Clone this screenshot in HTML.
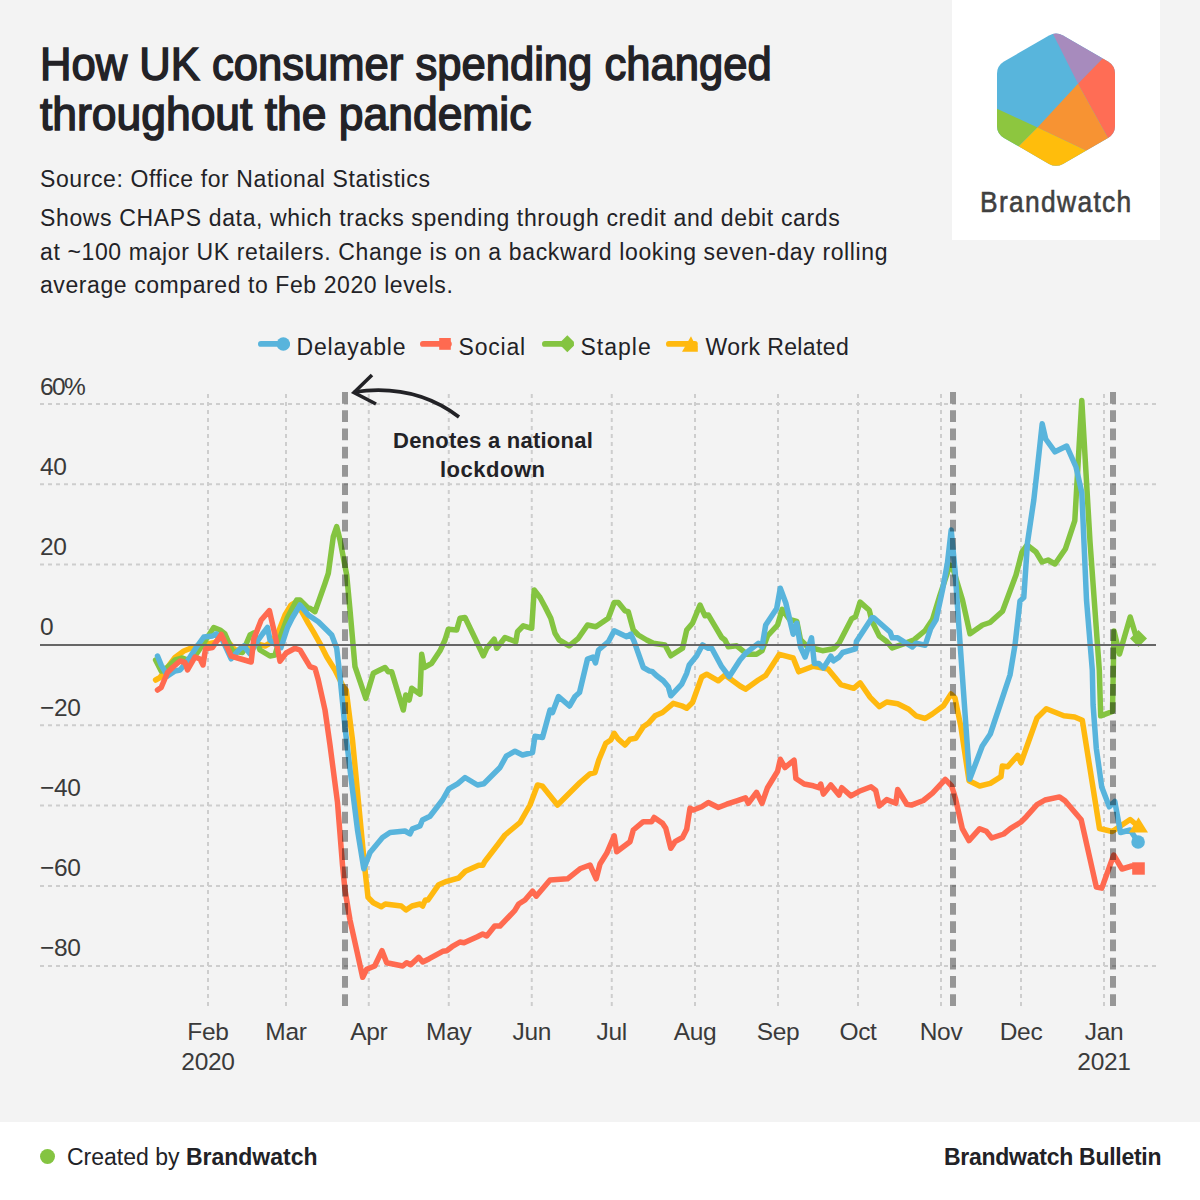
<!DOCTYPE html>
<html><head><meta charset="utf-8">
<style>
*{margin:0;padding:0;box-sizing:border-box}
html,body{width:1200px;height:1200px;overflow:hidden;background:#f3f3f3;font-family:"Liberation Sans",sans-serif;color:#222226}
.t{position:absolute;white-space:nowrap;line-height:1;transform-origin:0 0}
.yl{position:absolute;left:40px;font-size:24.5px;letter-spacing:-0.3px;color:#3a3a3a;white-space:nowrap;line-height:1}
.xl{position:absolute;width:80px;text-align:center;font-size:24.5px;letter-spacing:-0.3px;color:#3a3a3a;line-height:1}
</style></head><body>
<div style="position:absolute;left:952px;top:0;width:208px;height:240px;background:#fff"></div>
<div style="position:absolute;left:0;top:1122px;width:1200px;height:78px;background:#fff"></div>
<svg width="1200" height="1200" viewBox="0 0 1200 1200" style="position:absolute;left:0;top:0">
<line x1="40" y1="404" x2="1156" y2="404" stroke="#cdcdcd" stroke-width="2" stroke-dasharray="4 4"/>
<line x1="40" y1="484.3" x2="1156" y2="484.3" stroke="#cdcdcd" stroke-width="2" stroke-dasharray="4 4"/>
<line x1="40" y1="564.6" x2="1156" y2="564.6" stroke="#cdcdcd" stroke-width="2" stroke-dasharray="4 4"/>
<line x1="40" y1="725.3" x2="1156" y2="725.3" stroke="#cdcdcd" stroke-width="2" stroke-dasharray="4 4"/>
<line x1="40" y1="805.6" x2="1156" y2="805.6" stroke="#cdcdcd" stroke-width="2" stroke-dasharray="4 4"/>
<line x1="40" y1="886" x2="1156" y2="886" stroke="#cdcdcd" stroke-width="2" stroke-dasharray="4 4"/>
<line x1="40" y1="966" x2="1156" y2="966" stroke="#cdcdcd" stroke-width="2" stroke-dasharray="4 4"/>
<line x1="208" y1="394" x2="208" y2="1006" stroke="#cdcdcd" stroke-width="2" stroke-dasharray="4 4"/>
<line x1="286" y1="394" x2="286" y2="1006" stroke="#cdcdcd" stroke-width="2" stroke-dasharray="4 4"/>
<line x1="368.75" y1="394" x2="368.75" y2="1006" stroke="#cdcdcd" stroke-width="2" stroke-dasharray="4 4"/>
<line x1="448.75" y1="394" x2="448.75" y2="1006" stroke="#cdcdcd" stroke-width="2" stroke-dasharray="4 4"/>
<line x1="531.75" y1="394" x2="531.75" y2="1006" stroke="#cdcdcd" stroke-width="2" stroke-dasharray="4 4"/>
<line x1="611.75" y1="394" x2="611.75" y2="1006" stroke="#cdcdcd" stroke-width="2" stroke-dasharray="4 4"/>
<line x1="695" y1="394" x2="695" y2="1006" stroke="#cdcdcd" stroke-width="2" stroke-dasharray="4 4"/>
<line x1="778" y1="394" x2="778" y2="1006" stroke="#cdcdcd" stroke-width="2" stroke-dasharray="4 4"/>
<line x1="858" y1="394" x2="858" y2="1006" stroke="#cdcdcd" stroke-width="2" stroke-dasharray="4 4"/>
<line x1="941" y1="394" x2="941" y2="1006" stroke="#cdcdcd" stroke-width="2" stroke-dasharray="4 4"/>
<line x1="1021" y1="394" x2="1021" y2="1006" stroke="#cdcdcd" stroke-width="2" stroke-dasharray="4 4"/>
<line x1="1104" y1="394" x2="1104" y2="1006" stroke="#cdcdcd" stroke-width="2" stroke-dasharray="4 4"/>
<path d="M155.6,680.0 L160.0,677.5 L175.0,657.5 L183.8,651.0 L191.2,648.0 L200.0,645.0 L207.5,644.0 L215.0,642.5 L221.0,637.0 L230.0,644.0 L235.0,650.0 L243.8,650.0 L248.8,647.5 L257.5,644.0 L265.0,646.0 L271.0,642.5 L278.8,631.0 L285.0,615.0 L291.0,605.0 L297.5,601.0 L300.0,608.3 L308.3,623.3 L313.3,631.7 L321.7,646.7 L326.7,656.7 L335.0,670.0 L343.3,686.7 L346.2,690.0 L352.5,740.0 L365.0,870.0 L368.0,897.3 L373.3,902.7 L381.3,906.7 L385.3,904.0 L401.3,906.0 L406.0,910.0 L412.0,906.0 L420.0,904.0 L422.7,906.0 L425.3,900.0 L428.0,900.0 L438.7,884.7 L446.7,881.3 L458.7,878.0 L465.3,871.3 L478.7,865.3 L482.7,865.3 L485.0,861.2 L497.5,845.0 L505.0,835.0 L520.0,822.5 L530.0,805.0 L537.5,785.0 L542.5,786.2 L557.5,805.0 L570.0,792.5 L580.0,782.5 L590.0,773.8 L595.0,772.5 L598.8,760.0 L605.8,743.3 L610.8,740.0 L614.2,733.3 L618.3,739.2 L625.0,745.0 L630.0,739.2 L635.8,738.3 L643.3,726.7 L648.3,723.3 L655.0,715.8 L662.5,712.5 L673.3,703.3 L681.7,705.8 L686.7,708.3 L692.5,702.5 L701.7,677.0 L706.7,674.2 L718.3,680.8 L725.0,675.0 L740.0,686.0 L745.5,689.2 L758.3,680.0 L765.7,675.4 L779.4,654.3 L793.2,658.0 L798.7,671.8 L813.3,666.3 L828.0,669.0 L840.8,684.6 L853.7,688.3 L860.1,682.8 L870.2,697.4 L879.3,706.6 L886.7,702.0 L897.7,703.8 L908.7,709.3 L916.0,715.8 L925.2,718.5 L932.5,713.9 L943.5,705.7 L951.0,694.0 L955.0,698.0 L961.0,727.3 L969.0,780.7 L979.7,786.0 L990.3,783.3 L1001.0,776.7 L1002.3,766.0 L1007.7,766.7 L1017.7,755.3 L1021.0,762.7 L1037.0,718.0 L1046.3,708.7 L1063.8,715.8 L1074.7,717.0 L1082.3,720.2 L1099.5,828.5 L1112.2,831.5 L1130.2,819.5 L1138.5,826.5" fill="none" stroke="#ffb90f" stroke-width="5.5" stroke-linejoin="round" stroke-linecap="round"/>
<path d="M155.6,660.0 L161.2,671.0 L167.5,667.5 L175.0,660.0 L182.5,658.0 L187.5,660.0 L195.0,656.0 L202.5,645.0 L213.8,627.5 L220.0,630.0 L225.0,634.0 L232.5,651.0 L242.5,652.5 L250.0,635.0 L253.8,633.0 L260.0,650.0 L270.0,656.0 L275.0,655.0 L281.0,635.0 L287.5,617.5 L296.7,600.0 L300.0,600.0 L308.3,608.3 L310.0,608.3 L315.0,611.7 L325.0,583.3 L328.3,573.3 L333.3,536.7 L336.7,526.7 L340.0,540.0 L346.7,575.0 L350.0,610.0 L355.0,666.7 L365.8,698.3 L373.3,673.3 L378.3,670.8 L385.0,667.5 L388.3,671.7 L391.7,671.7 L403.3,710.0 L405.8,695.0 L409.2,700.0 L411.7,688.3 L420.0,694.2 L421.7,654.2 L424.2,667.5 L431.7,663.3 L440.0,650.8 L445.0,640.0 L448.3,629.2 L456.7,630.0 L460.0,618.3 L465.0,617.5 L475.0,638.3 L483.3,655.8 L486.7,648.3 L494.2,639.2 L496.7,648.3 L505.0,637.5 L515.8,641.7 L517.5,631.7 L523.3,625.8 L531.7,628.3 L534.2,590.0 L540.0,597.5 L545.0,606.7 L550.8,618.3 L555.0,633.3 L559.2,640.0 L569.2,645.8 L578.3,638.3 L587.5,625.0 L595.8,626.7 L608.3,618.3 L614.2,602.5 L618.3,602.5 L625.0,610.8 L628.3,611.7 L633.3,630.0 L638.3,635.0 L646.7,640.0 L653.3,643.3 L665.0,645.0 L670.8,655.8 L682.5,648.3 L686.7,630.0 L692.5,623.3 L700.0,605.0 L705.0,615.8 L708.3,615.0 L713.3,623.3 L721.7,637.5 L725.0,640.0 L728.3,646.7 L736.7,645.8 L747.3,654.3 L756.5,654.3 L762.0,650.7 L767.5,636.0 L777.6,625.0 L782.2,609.4 L789.5,619.5 L796.8,621.3 L800.5,639.7 L807.8,647.0 L822.5,650.7 L833.5,648.8 L839.0,643.3 L851.8,618.6 L855.5,616.8 L860.1,602.1 L869.3,610.3 L872.0,621.3 L879.3,636.0 L886.7,641.5 L892.2,647.9 L905.0,643.3 L914.2,639.7 L925.2,630.5 L932.5,619.5 L940.0,595.0 L950.0,565.0 L953.8,571.2 L962.5,600.0 L970.0,633.8 L982.5,625.0 L990.0,622.5 L1002.5,611.2 L1016.0,575.0 L1022.0,552.0 L1027.0,545.0 L1036.0,552.0 L1042.0,562.0 L1048.0,560.0 L1055.0,564.0 L1065.5,548.7 L1074.8,520.7 L1078.3,460.0 L1081.8,400.5 L1090.0,541.7 L1099.3,670.0 L1100.7,715.8 L1112.5,711.5 L1114.0,631.0 L1119.5,654.0 L1130.2,617.0 L1136.0,636.0 L1138.5,638.5" fill="none" stroke="#84c441" stroke-width="5.5" stroke-linejoin="round" stroke-linecap="round"/>
<path d="M157.5,656.0 L161.2,665.0 L167.5,676.0 L175.0,671.0 L180.0,670.0 L187.5,661.0 L196.2,647.5 L203.8,637.0 L212.5,636.0 L216.2,633.8 L222.5,640.0 L231.2,658.8 L240.0,648.8 L243.8,646.0 L250.0,653.8 L257.5,641.0 L262.5,634.0 L267.5,627.5 L270.0,640.0 L275.0,644.0 L281.0,647.5 L287.5,627.5 L292.5,617.5 L300.0,605.0 L308.3,615.0 L318.3,621.7 L326.7,630.0 L331.7,635.0 L336.7,648.3 L340.0,676.7 L343.3,710.0 L345.0,727.5 L352.5,790.0 L357.5,830.0 L363.8,868.8 L370.0,852.5 L382.5,837.5 L390.0,832.5 L405.0,831.0 L410.0,833.8 L412.5,828.8 L420.0,826.0 L422.5,820.0 L430.0,816.2 L442.5,800.0 L448.8,788.8 L457.5,783.8 L465.0,777.5 L477.5,785.0 L483.8,783.8 L492.5,775.0 L500.0,767.5 L506.2,756.2 L515.0,751.2 L522.5,755.0 L532.5,752.5 L535.0,736.2 L542.5,737.5 L550.0,710.0 L552.5,712.5 L558.5,696.5 L569.5,706.0 L575.0,696.5 L579.5,692.5 L587.5,659.0 L593.0,657.0 L595.5,663.0 L598.5,650.0 L608.5,641.5 L614.2,630.8 L626.7,636.7 L630.8,634.2 L634.2,641.7 L643.3,667.5 L649.2,670.8 L652.5,671.7 L656.7,675.8 L663.3,680.8 L668.3,686.7 L670.8,695.8 L681.7,684.2 L686.7,673.3 L689.2,665.0 L696.7,655.8 L702.5,645.0 L708.3,648.3 L711.7,648.3 L721.7,666.7 L729.2,676.7 L740.0,660.0 L745.5,653.4 L758.3,643.3 L762.0,647.0 L765.7,625.0 L776.7,608.5 L780.3,588.3 L785.8,603.0 L793.2,634.2 L796.8,623.2 L800.5,647.0 L805.1,657.1 L811.5,637.8 L814.3,663.5 L818.8,663.5 L823.4,668.1 L830.8,656.2 L833.5,660.8 L839.0,657.1 L842.7,652.5 L855.5,648.8 L856.4,641.5 L872.0,617.7 L873.8,617.7 L890.3,632.3 L892.2,637.8 L897.7,637.8 L912.3,647.0 L916.0,643.3 L925.2,645.2 L930.7,628.7 L936.2,619.5 L942.5,590.0 L947.5,562.5 L951.2,530.0 L955.0,570.0 L960.0,642.5 L969.7,779.3 L982.3,746.0 L990.3,734.0 L999.7,706.0 L1010.0,675.0 L1015.0,645.0 L1020.0,601.0 L1023.8,597.5 L1027.5,542.5 L1033.8,500.0 L1037.5,467.0 L1042.2,423.8 L1045.7,439.0 L1055.0,451.8 L1066.7,446.0 L1076.0,467.0 L1081.8,492.7 L1086.5,600.0 L1092.3,670.0 L1093.1,705.0 L1096.3,748.3 L1101.8,787.3 L1109.3,806.8 L1114.8,801.4 L1120.5,832.5 L1130.2,830.0 L1138.1,842.0" fill="none" stroke="#58b4dc" stroke-width="5.5" stroke-linejoin="round" stroke-linecap="round"/>
<path d="M157.5,690.0 L161.2,687.5 L167.5,672.5 L172.5,667.5 L180.0,661.0 L185.0,662.5 L187.5,670.0 L195.0,657.0 L200.0,659.0 L203.0,665.0 L205.6,648.8 L212.5,647.5 L221.2,634.4 L231.2,656.2 L237.5,658.0 L251.2,662.0 L253.8,638.8 L261.2,620.0 L269.4,610.6 L275.0,635.0 L280.0,661.2 L286.2,653.0 L295.0,648.3 L300.0,650.0 L310.0,666.7 L315.0,668.3 L318.3,680.0 L325.0,710.0 L330.0,745.0 L337.5,802.5 L342.5,865.0 L345.0,890.0 L350.0,920.0 L362.7,977.3 L366.7,969.3 L374.7,966.0 L382.0,950.7 L386.7,962.7 L402.7,966.0 L406.7,962.7 L410.7,964.7 L418.7,957.3 L422.7,962.0 L429.3,958.7 L442.7,951.3 L446.7,950.7 L452.0,946.7 L460.0,942.0 L464.0,942.7 L477.3,936.7 L482.7,934.0 L486.7,936.0 L494.7,926.0 L500.0,926.0 L514.7,910.7 L518.7,904.0 L525.0,900.0 L532.5,891.2 L536.2,896.2 L550.0,880.0 L567.5,878.8 L580.0,868.8 L590.0,865.0 L596.2,878.8 L600.0,864.0 L606.7,853.3 L614.2,835.8 L616.7,851.7 L630.0,841.7 L633.3,830.0 L643.3,821.7 L651.7,821.7 L654.2,817.5 L662.5,823.3 L665.8,828.3 L670.8,848.3 L675.0,841.7 L682.5,837.5 L686.7,829.2 L690.0,808.3 L693.3,810.0 L701.7,806.7 L708.3,802.5 L718.3,807.5 L726.7,804.2 L736.7,800.8 L745.5,797.8 L748.3,803.3 L756.5,792.3 L762.0,803.3 L767.5,787.7 L777.6,771.2 L780.3,759.3 L784.9,767.5 L794.1,760.2 L795.9,778.5 L804.2,784.0 L813.3,785.8 L818.8,787.7 L820.7,784.0 L823.4,794.1 L830.8,784.9 L839.0,795.0 L841.8,787.7 L850.9,795.9 L859.2,791.3 L871.1,786.8 L875.7,790.4 L879.3,806.0 L886.7,799.6 L895.8,803.3 L897.7,789.5 L906.8,804.2 L911.4,805.1 L923.3,800.5 L932.5,793.2 L945.3,779.4 L951.7,786.0 L955.7,799.3 L962.3,828.7 L969.0,840.7 L979.7,828.7 L986.3,831.3 L991.7,838.0 L1003.7,834.0 L1010.3,828.7 L1021.0,822.0 L1026.3,816.7 L1037.0,804.7 L1045.0,800.0 L1059.6,796.9 L1065.0,800.7 L1081.2,819.8 L1096.3,887.0 L1101.8,888.1 L1113.7,855.0 L1122.0,869.0 L1131.8,866.0 L1138.5,868.5" fill="none" stroke="#ff6a50" stroke-width="5.5" stroke-linejoin="round" stroke-linecap="round"/>
<path d="M1138.5,817.3 L1148,832.6 L1129,832.6 Z" fill="#ffb90f"/>
<path d="M1138.5,630 L1147,638.5 L1138.5,647 L1130,638.5 Z" fill="#84c441"/>
<circle cx="1138.1" cy="842" r="6.8" fill="#58b4dc"/>
<rect x="1132.2" y="862.3" width="12.6" height="12.4" fill="#ff6a50"/>
<line x1="345" y1="392" x2="345" y2="1006" stroke="#000" stroke-opacity="0.38" stroke-width="6" stroke-dasharray="11.65 6.6"/>
<line x1="953" y1="392" x2="953" y2="1006" stroke="#000" stroke-opacity="0.38" stroke-width="6" stroke-dasharray="11.65 6.6"/>
<line x1="1113" y1="392" x2="1113" y2="1006" stroke="#000" stroke-opacity="0.38" stroke-width="6" stroke-dasharray="11.65 6.6"/>
<line x1="40" y1="645" x2="1156" y2="645" stroke="#666" stroke-width="2.2"/>
<path d="M459,417 C430,395 395,386 354,392" fill="none" stroke="#222226" stroke-width="3.6"/>
<path d="M372,375 L354,392.5 L376,404" fill="none" stroke="#222226" stroke-width="3.6" stroke-linejoin="miter"/>
</svg>
<svg width="208" height="240" viewBox="952 0 208 240" style="position:absolute;left:952px;top:0">
<defs><clipPath id="hx"><path d="M1049,35.5 Q1056,31.7 1063,35.5 L1108,61.5 Q1115,65.7 1115,73.7 L1115,125.7 Q1115,133.7 1108,137.9 L1063,163.9 Q1056,167.7 1049,163.9 L1004,137.9 Q997,133.7 997,125.7 L997,73.7 Q997,65.7 1004,61.5 Z"/></clipPath></defs>
<g clip-path="url(#hx)">
<rect x="990" y="25" width="135" height="150" fill="#58b5dc"/>
<polygon points="1051,30 1078,83.7 1105,56 1070,20" fill="#a78bbd"/>
<polygon points="1078,83.7 1105,56 1130,30 1130,170 1117,154" fill="#ff6d55"/>
<polygon points="1078,83.7 1117,154 1130,180 1100,180 1106,160 1037.5,127.5" fill="#f79333"/>
<polygon points="980,101 1037.5,127.5 1010,155 980,160" fill="#8dc63f"/>
<polygon points="1037.5,127.5 1106,160 1100,180 1000,180 1010,155" fill="#ffbd0c"/>
</g></svg>
<div class="t" style="left:980px;top:187px;font-size:30px;color:#404040;letter-spacing:1.5px;-webkit-text-stroke:0.6px #404040;transform:scaleX(0.88)">Brandwatch</div>
<div class="t" id="title1" style="left:40px;top:41px;font-size:46px;font-weight:400;-webkit-text-stroke:1.5px #232227;transform:scaleX(0.9475)">How UK consumer spending changed</div>
<div class="t" id="title2" style="left:40px;top:91px;font-size:46px;font-weight:400;-webkit-text-stroke:1.5px #232227;transform:scaleX(0.9656)">throughout the pandemic</div>
<div class="t" style="left:40px;top:167.5px;font-size:23px;letter-spacing:0.6px">Source: Office for National Statistics</div>
<div class="t" style="left:40px;top:207px;font-size:23px;letter-spacing:0.64px">Shows CHAPS data, which tracks spending through credit and debit cards</div>
<div class="t" style="left:40px;top:241px;font-size:23px;letter-spacing:0.63px">at ~100 major UK retailers. Change is on a backward looking seven-day rolling</div>
<div class="t" style="left:40px;top:274px;font-size:23px;letter-spacing:0.58px">average compared to Feb 2020 levels.</div>
<!-- legend -->
<svg width="1200" height="40" viewBox="0 325 1200 40" style="position:absolute;left:0;top:325px">
<line x1="260.9" y1="343.9" x2="287.1" y2="343.9" stroke="#58b4dc" stroke-width="5.8" stroke-linecap="round"/>
<circle cx="283.3" cy="344" r="6.7" fill="#58b4dc"/>
<line x1="422.9" y1="343.9" x2="448.9" y2="343.9" stroke="#ff6a50" stroke-width="5.8" stroke-linecap="round"/>
<rect x="439.2" y="338" width="11.6" height="11.8" fill="#ff6a50"/>
<line x1="544.9" y1="343.9" x2="570.9" y2="343.9" stroke="#84c441" stroke-width="5.8" stroke-linecap="round"/>
<path d="M567.3,335.3 L573.8,341.8 L573.8,345.8 L567.3,352.3 L558.8,343.8 Z" fill="#84c441"/>
<line x1="668.9" y1="343.9" x2="694.9" y2="343.9" stroke="#ffb90f" stroke-width="5.8" stroke-linecap="round"/>
<path d="M691,336.2 L695.6,345.6 L697.8,345.6 L697.8,351.8 L682,351.8 Z" fill="#ffb90f"/>
</svg>
<div class="t" style="left:296.5px;top:335.5px;font-size:23px;letter-spacing:0.85px">Delayable</div>
<div class="t" style="left:458.5px;top:335.5px;font-size:23px;letter-spacing:0.8px">Social</div>
<div class="t" style="left:580.5px;top:335.5px;font-size:23px;letter-spacing:1px">Staple</div>
<div class="t" style="left:705.5px;top:335.5px;font-size:23px;letter-spacing:0.4px">Work Related</div>
<!-- annotation -->
<div class="t" style="left:393px;top:430px;font-size:22px;font-weight:700;letter-spacing:0.25px">Denotes a national</div>
<div class="t" style="left:440px;top:458.5px;font-size:22px;font-weight:700;letter-spacing:0.5px">lockdown</div>
<!-- y labels -->
<div class="yl" style="top:375px;letter-spacing:-1.6px">60%</div>
<div class="yl" style="top:454.5px">40</div>
<div class="yl" style="top:534.8px">20</div>
<div class="yl" style="top:615.3px">0</div>
<div class="yl" style="top:695.5px">−20</div>
<div class="yl" style="top:775.8px">−40</div>
<div class="yl" style="top:856px">−60</div>
<div class="yl" style="top:936.3px">−80</div>
<!-- x labels -->
<div class="xl" style="left:168px;top:1019.5px">Feb</div>
<div class="xl" style="left:246px;top:1019.5px">Mar</div>
<div class="xl" style="left:328.75px;top:1019.5px">Apr</div>
<div class="xl" style="left:408.75px;top:1019.5px">May</div>
<div class="xl" style="left:491.75px;top:1019.5px">Jun</div>
<div class="xl" style="left:571.75px;top:1019.5px">Jul</div>
<div class="xl" style="left:655px;top:1019.5px">Aug</div>
<div class="xl" style="left:738px;top:1019.5px">Sep</div>
<div class="xl" style="left:818px;top:1019.5px">Oct</div>
<div class="xl" style="left:901px;top:1019.5px">Nov</div>
<div class="xl" style="left:981px;top:1019.5px">Dec</div>
<div class="xl" style="left:1064px;top:1019.5px">Jan</div>
<div class="xl" style="left:168px;top:1050px">2020</div>
<div class="xl" style="left:1064px;top:1050px">2021</div>

<!-- footer -->
<div style="position:absolute;left:40px;top:1149px;width:15px;height:15px;border-radius:50%;background:#84c441"></div>
<div class="t" style="left:67px;top:1146px;font-size:23px">Created by <b>Brandwatch</b></div>
<div class="t" style="left:944px;top:1146px;font-size:23px;font-weight:700;letter-spacing:-0.27px">Brandwatch Bulletin</div>
</body></html>
